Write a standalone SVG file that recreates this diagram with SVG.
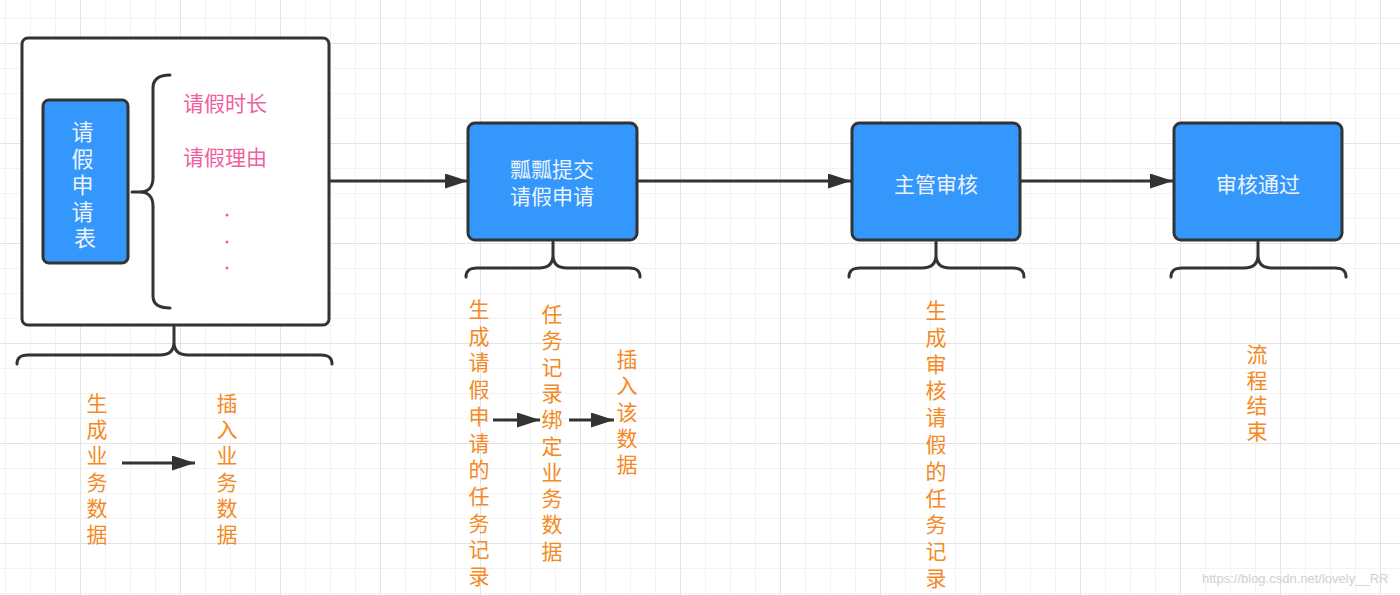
<svg xmlns="http://www.w3.org/2000/svg" width="1400" height="595" viewBox="0 0 1400 595">
  <defs>
    <pattern id="gMinor" patternUnits="userSpaceOnUse" x="5" y="18" width="25" height="25">
      <path d="M0,0 L25,0 M0,0 L0,25" fill="none" stroke="#f0f0f0" stroke-width="1.5"/>
    </pattern>
    <pattern id="gMajor" patternUnits="userSpaceOnUse" x="80" y="43" width="100" height="100">
      <path d="M0,0 L100,0 M0,0 L0,100" fill="none" stroke="#e3e3e3" stroke-width="1.8"/>
    </pattern>
    <marker id="arr" markerUnits="userSpaceOnUse" markerWidth="24" markerHeight="16" refX="23" refY="7.5" orient="auto">
      <path d="M0,0 L23,7.5 L0,15 Z" fill="#333"/>
    </marker>
    <style>
      .box { fill: #ffffff; stroke: #333; stroke-width: 3; }
      .blue { fill: #3497fb; stroke: #333; stroke-width: 3; }
      .brace { fill: none; stroke: #333; stroke-width: 3; stroke-linecap: round; }
      .conn { fill: none; stroke: #333; stroke-width: 3; marker-end: url(#arr); }
      .ntxt { font-family: "Noto Sans CJK SC", "Noto Sans", sans-serif; font-size: 21px; fill: #eef3fb; text-anchor: middle; dominant-baseline: central; }
      .pink { font-family: "Noto Sans CJK SC", "Noto Sans", sans-serif; font-size: 21px; fill: #f0609e; dominant-baseline: central; }
      .orange { font-family: "Noto Sans CJK SC", "Noto Sans", sans-serif; font-size: 21px; fill: #f5891f; text-anchor: middle; dominant-baseline: central; }
      .wm { font-family: "Liberation Sans", "DejaVu Sans", sans-serif; font-size: 13px; fill: #d0d0d0; }
    </style>
  </defs>

  <rect x="0" y="0" width="1400" height="595" fill="#ffffff"/>
  <rect x="0" y="0" width="1400" height="595" fill="url(#gMinor)"/>
  <rect x="0" y="0" width="1400" height="595" fill="url(#gMajor)"/>

  <g id="form">
    <rect class="box" x="22" y="38" width="307" height="287" rx="6"/>
    <rect class="blue" x="43" y="100" width="85" height="163" rx="6"/>
    <text class="ntxt" style="font-size:22px">
      <tspan x="85" y="130">请</tspan>
      <tspan x="85" y="156.5">假</tspan>
      <tspan x="85" y="183">申</tspan>
      <tspan x="85" y="209.5">请</tspan>
      <tspan x="85" y="236">表</tspan>
    </text>
    <path class="brace" d="M170,75 C160,75 153,78 153,88 L153,178 C153,187 148,192 140,192 L132,192 M140,192 C148,192 153,197 153,206 L153,296 C153,305 160,308 170,308"/>
    <text class="pink" x="183" y="102">请假时长</text>
    <text class="pink" x="183" y="156">请假理由</text>
    <circle cx="227" cy="215" r="1.5" fill="#f0609e"/>
    <circle cx="227" cy="242" r="1.5" fill="#f0609e"/>
    <circle cx="227" cy="268" r="1.5" fill="#f0609e"/>
    <path class="brace" d="M17,364 C17,358 20,355 28,355 L160,355 C170,355 174,350 174,342 L174,327 M174,342 C174,350 178,355 188,355 L321,355 C329,355 332,358 332,364"/>
  </g>

  <g id="submit">
    <rect class="blue" x="468" y="123" width="169" height="117" rx="7"/>
    <text class="ntxt" x="552" y="168">瓢瓢提交</text>
    <text class="ntxt" x="552" y="195">请假申请</text>
    <path class="brace" d="M466,277 C466,271 469,268 477,268 L539,268 C549,268 553,263 553,255 L553,242 M553,255 C553,263 557,268 567,268 L629,268 C637,268 640,271 640,277"/>
  </g>

  <g id="review">
    <rect class="blue" x="852" y="123" width="168" height="117" rx="7"/>
    <text class="ntxt" x="936" y="183">主管审核</text>
    <path class="brace" d="M849,277 C849,271 852,268 860,268 L922,268 C932,268 936,263 936,255 L936,242 M936,255 C936,263 940,268 950,268 L1013,268 C1021,268 1024,271 1024,277"/>
  </g>

  <g id="approved">
    <rect class="blue" x="1174" y="123" width="168" height="117" rx="7"/>
    <text class="ntxt" x="1258" y="183">审核通过</text>
    <path class="brace" d="M1171,277 C1171,271 1174,268 1182,268 L1244,268 C1254,268 1258,263 1258,255 L1258,242 M1258,255 C1258,263 1262,268 1272,268 L1335,268 C1343,268 1346,271 1346,277"/>
  </g>

  <g id="notes">
    <text class="orange">
      <tspan x="97" y="402">生</tspan><tspan x="97" y="428.2">成</tspan><tspan x="97" y="454.4">业</tspan><tspan x="97" y="480.6">务</tspan><tspan x="97" y="506.8">数</tspan><tspan x="97" y="533">据</tspan>
    </text>
    <text class="orange">
      <tspan x="227" y="402">插</tspan><tspan x="227" y="428.2">入</tspan><tspan x="227" y="454.4">业</tspan><tspan x="227" y="480.6">务</tspan><tspan x="227" y="506.8">数</tspan><tspan x="227" y="533">据</tspan>
    </text>
    <text class="orange">
      <tspan x="479" y="308">生</tspan><tspan x="479" y="334.7">成</tspan><tspan x="479" y="361.4">请</tspan><tspan x="479" y="388.1">假</tspan><tspan x="479" y="414.8">申</tspan><tspan x="479" y="441.5">请</tspan><tspan x="479" y="468.2">的</tspan><tspan x="479" y="494.9">任</tspan><tspan x="479" y="521.6">务</tspan><tspan x="479" y="548.3">记</tspan><tspan x="479" y="575">录</tspan>
    </text>
    <text class="orange">
      <tspan x="552" y="313">任</tspan><tspan x="552" y="339.3">务</tspan><tspan x="552" y="365.6">记</tspan><tspan x="552" y="391.9">录</tspan><tspan x="552" y="418.2">绑</tspan><tspan x="552" y="444.5">定</tspan><tspan x="552" y="470.8">业</tspan><tspan x="552" y="497.1">务</tspan><tspan x="552" y="523.4">数</tspan><tspan x="552" y="549.7">据</tspan>
    </text>
    <text class="orange">
      <tspan x="627" y="358">插</tspan><tspan x="627" y="384.3">入</tspan><tspan x="627" y="410.6">该</tspan><tspan x="627" y="436.9">数</tspan><tspan x="627" y="463.2">据</tspan>
    </text>
    <text class="orange">
      <tspan x="936" y="309">生</tspan><tspan x="936" y="335.8">成</tspan><tspan x="936" y="362.6">审</tspan><tspan x="936" y="389.4">核</tspan><tspan x="936" y="416.2">请</tspan><tspan x="936" y="443">假</tspan><tspan x="936" y="469.8">的</tspan><tspan x="936" y="496.6">任</tspan><tspan x="936" y="523.4">务</tspan><tspan x="936" y="550.2">记</tspan><tspan x="936" y="577">录</tspan>
    </text>
    <text class="orange">
      <tspan x="1257" y="353">流</tspan><tspan x="1257" y="378.7">程</tspan><tspan x="1257" y="404.4">结</tspan><tspan x="1257" y="430.1">束</tspan>
    </text>
  </g>

  <g id="connectors">
    <line class="conn" x1="329" y1="181" x2="468" y2="181"/>
    <line class="conn" x1="637" y1="181" x2="851" y2="181"/>
    <line class="conn" x1="1020" y1="181" x2="1173" y2="181"/>
    <line class="conn" x1="122" y1="463" x2="195" y2="463"/>
    <line class="conn" x1="493" y1="420" x2="540" y2="420"/>
    <line class="conn" x1="569" y1="420" x2="614" y2="420"/>
  </g>

  <text class="wm" x="1202" y="583">https://blog.csdn.net/lovely__RR</text>
</svg>
